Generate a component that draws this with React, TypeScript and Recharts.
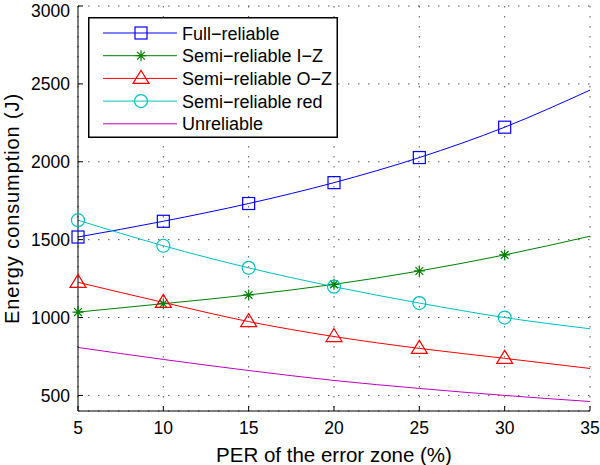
import React from "react";
import { LineChart, Line, XAxis, YAxis, CartesianGrid, Legend } from "recharts";

document.body.style.margin = "0";

const perValues = [5, 10, 15, 20, 25, 30, 35];
const fullReliable = [1517, 1618, 1732, 1866, 2027, 2222, 2460];
const semiIZ = [1035, 1089, 1145, 1213, 1299, 1402, 1522];
const semiOZ = [1226, 1097, 974, 878, 802, 738, 673];
const semiRed = [1625, 1461, 1319, 1198, 1093, 1000, 928];
const unreliable = [808, 731, 660, 596, 545, 500, 461];

const xTicks = [5, 10, 15, 20, 25, 30, 35];
const yTicks = [500, 1000, 1500, 2000, 2500, 3000];
const lastMarked = 30;

type Marker = "square" | "star" | "triangle" | "circle" | "none";

const series: { key: string; name: string; color: string; marker: Marker }[] = [
  { key: "full", name: "Full\u2212reliable", color: "#0000ff", marker: "square" },
  { key: "iz", name: "Semi\u2212reliable I\u2212Z", color: "#008000", marker: "star" },
  { key: "oz", name: "Semi\u2212reliable O\u2212Z", color: "#ff0000", marker: "triangle" },
  { key: "red", name: "Semi\u2212reliable red", color: "#00bfbf", marker: "circle" },
  { key: "unrel", name: "Unreliable", color: "#bf00bf", marker: "none" },
];

const data = perValues.map((per, i) => ({
  per,
  full: fullReliable[i],
  iz: semiIZ[i],
  oz: semiOZ[i],
  red: semiRed[i],
  unrel: unreliable[i],
}));

const FONT = "'Liberation Sans', Arial, sans-serif";

function MarkerShape({ kind, cx, cy, color }: { kind: Marker; cx: number; cy: number; color: string }) {
  if (kind === "square") {
    return <rect x={cx - 6} y={cy - 6} width={12} height={12} fill="none" stroke={color} strokeWidth={1.2} />;
  }
  if (kind === "circle") {
    return <circle cx={cx} cy={cy} r={6.5} fill="none" stroke={color} strokeWidth={1.2} />;
  }
  if (kind === "triangle") {
    return (
      <polygon
        points={`${cx},${cy - 8} ${cx - 8},${cy + 5} ${cx + 8},${cy + 5}`}
        fill="none"
        stroke={color}
        strokeWidth={1.2}
      />
    );
  }
  if (kind === "star") {
    const r = 5.5;
    const d = r * 0.707;
    return (
      <path
        d={`M${cx},${cy - r}V${cy + r}M${cx - r},${cy}H${cx + r}M${cx - d},${cy - d}L${cx + d},${cy + d}M${cx - d},${cy + d}L${cx + d},${cy - d}`}
        stroke={color}
        strokeWidth={1.2}
        fill="none"
      />
    );
  }
  return null;
}

// legend drawn as one small svg so its text uses the same sizing as the axes
function LegendBox() {
  const rowH = 22.7;
  return (
    <svg width={250} height={121} style={{ display: "block" }}>
      <rect x={0.75} y={0.75} width={248.5} height={119.5} fill="#fff" stroke="#000" strokeWidth={1.5} />
      {series.map((s, i) => {
        const cy = 16 + i * rowH;
        return (
          <g key={s.key}>
            <line x1={15} y1={cy} x2={89} y2={cy} stroke={s.color} strokeWidth={1} />
            <MarkerShape kind={s.marker} cx={53} cy={cy} color={s.color} />
            <text x={94} y={cy + 6.5} fontSize={18} fontFamily={FONT} fill="#000">
              {s.name}
            </text>
          </g>
        );
      })}
    </svg>
  );
}

export default function App() {
  const tickStyle = { fill: "#000", fontSize: 17.5 };
  return (
    <LineChart
      width={600}
      height={465}
      data={data}
      margin={{ top: 6, right: 10, bottom: 0, left: 0 }}
      style={{ fontFamily: FONT, background: "#fff" }}
    >
      <CartesianGrid stroke="#555" strokeDasharray="1.5 8.5" />
      <XAxis
        dataKey="per"
        type="number"
        domain={[5, 35]}
        ticks={xTicks}
        height={54}
        stroke="#000"
        tick={tickStyle}
        tickSize={-5}
        tickMargin={16}
        label={{ value: "PER of the error zone (%)", position: "insideBottom", offset: 3, fill: "#000", fontSize: 20.5 }}
      />
      <XAxis
        xAxisId="top"
        orientation="top"
        dataKey="per"
        type="number"
        domain={[5, 35]}
        ticks={xTicks}
        height={0}
        mirror
        tick={false}
        stroke="#000"
      />
      <YAxis
        type="number"
        domain={[400, 3000]}
        ticks={yTicks}
        width={78}
        stroke="#000"
        tick={tickStyle}
        tickSize={-5}
        tickMargin={13}
        label={{
          value: "Energy consumption (J)",
          angle: -90,
          position: "insideLeft",
          offset: 12,
          fill: "#000",
          fontSize: 20,
          style: { textAnchor: "middle", letterSpacing: 0.9 },
        }}
      />
      <YAxis
        yAxisId="right"
        orientation="right"
        type="number"
        domain={[400, 3000]}
        ticks={yTicks}
        width={0}
        mirror
        tick={false}
        stroke="#000"
      />
      <Legend
        layout="vertical"
        align="center"
        verticalAlign="middle"
        content={() => <LegendBox />}
        wrapperStyle={{ position: "absolute", left: 88, top: 17, width: 250, height: 121 }}
      />
      {series.map((s) => (
        <Line
          key={s.key}
          dataKey={s.key}
          name={s.name}
          type="monotone"
          stroke={s.color}
          strokeWidth={1}
          isAnimationActive={false}
          activeDot={false}
          dot={(p: any) =>
            p.payload.per > lastMarked || s.marker === "none" ? (
              <g key={`${s.key}-${p.index}`} />
            ) : (
              <g key={`${s.key}-${p.index}`}>
                <MarkerShape kind={s.marker} cx={p.cx} cy={p.cy} color={s.color} />
              </g>
            )
          }
        />
      ))}
    </LineChart>
  );
}
